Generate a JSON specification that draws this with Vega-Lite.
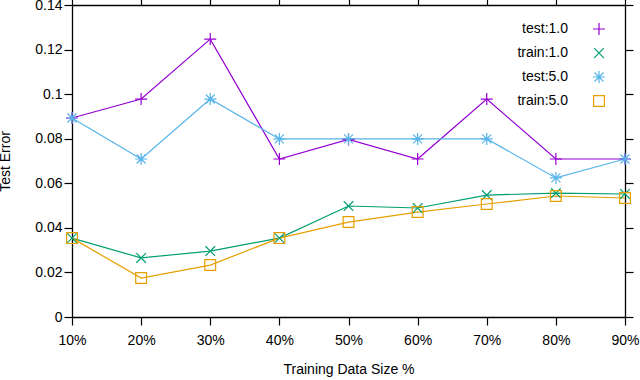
{
  "$schema": "https://vega.github.io/schema/vega-lite/v6.json",
  "width": 553,
  "height": 312,
  "autosize": {"type": "none"},
  "padding": {"left": 72, "top": 5, "right": 15, "bottom": 63},
  "background": "white",
  "config": {
    "font": "Liberation Sans",
    "view": {"stroke": null},
    "axis": {"grid": false, "domain": true, "domainColor": "black", "domainWidth": 1.3, "ticks": true, "tickColor": "black", "tickOpacity": 1, "tickWidth": 1.2, "tickSize": 8, "labelFontSize": 14, "labelColor": "black", "titleFontSize": 14, "titleFontWeight": "normal", "titleColor": "black"},
    "legend": {"title": null, "orient": "top-right", "offset": 17, "labelFontSize": 14, "labelColor": "black", "labelAlign": "right", "labelOffset": -38, "symbolSize": 144, "symbolStrokeWidth": 1.2, "rowPadding": 7}
  },
  "data": {
    "values": [
      {"x": "10%", "series": "test:1.0", "v": 0.0893},
      {"x": "20%", "series": "test:1.0", "v": 0.0978},
      {"x": "30%", "series": "test:1.0", "v": 0.1247},
      {"x": "40%", "series": "test:1.0", "v": 0.0709},
      {"x": "50%", "series": "test:1.0", "v": 0.0797},
      {"x": "60%", "series": "test:1.0", "v": 0.0709},
      {"x": "70%", "series": "test:1.0", "v": 0.0978},
      {"x": "80%", "series": "test:1.0", "v": 0.0709},
      {"x": "90%", "series": "test:1.0", "v": 0.0709},
      {"x": "10%", "series": "train:1.0", "v": 0.0354},
      {"x": "20%", "series": "train:1.0", "v": 0.0265},
      {"x": "30%", "series": "train:1.0", "v": 0.0296},
      {"x": "40%", "series": "train:1.0", "v": 0.0354},
      {"x": "50%", "series": "train:1.0", "v": 0.0498},
      {"x": "60%", "series": "train:1.0", "v": 0.0489},
      {"x": "70%", "series": "train:1.0", "v": 0.0547},
      {"x": "80%", "series": "train:1.0", "v": 0.0556},
      {"x": "90%", "series": "train:1.0", "v": 0.0552},
      {"x": "10%", "series": "test:5.0", "v": 0.0893},
      {"x": "20%", "series": "test:5.0", "v": 0.0709},
      {"x": "30%", "series": "test:5.0", "v": 0.0978},
      {"x": "40%", "series": "test:5.0", "v": 0.0799},
      {"x": "50%", "series": "test:5.0", "v": 0.0799},
      {"x": "60%", "series": "test:5.0", "v": 0.0799},
      {"x": "70%", "series": "test:5.0", "v": 0.0799},
      {"x": "80%", "series": "test:5.0", "v": 0.0624},
      {"x": "90%", "series": "test:5.0", "v": 0.0709},
      {"x": "10%", "series": "train:5.0", "v": 0.0354},
      {"x": "20%", "series": "train:5.0", "v": 0.0175},
      {"x": "30%", "series": "train:5.0", "v": 0.0233},
      {"x": "40%", "series": "train:5.0", "v": 0.0354},
      {"x": "50%", "series": "train:5.0", "v": 0.0426},
      {"x": "60%", "series": "train:5.0", "v": 0.0471},
      {"x": "70%", "series": "train:5.0", "v": 0.0507},
      {"x": "80%", "series": "train:5.0", "v": 0.0543},
      {"x": "90%", "series": "train:5.0", "v": 0.0534}
    ]
  },
  "layer": [
    {
      "mark": {"type": "line", "strokeWidth": 1.2},
      "encoding": {
        "x": {"field": "x", "type": "ordinal", "scale": {"type": "point", "padding": 0}, "axis": {"orient": "bottom", "title": "Training Data Size %", "labelAngle": 0, "labelPadding": 8, "titlePadding": 15, "tickSize": 8, "ticks": true}},
        "y": {"field": "v", "type": "quantitative", "scale": {"domain": [0, 0.14]}, "axis": {"orient": "left", "title": "Test Error", "values": [0, 0.02, 0.04, 0.06, 0.08, 0.1, 0.12, 0.14], "format": "~g", "labelPadding": 2, "titlePadding": 22, "tickSize": 8, "ticks": true}},
        "color": {"field": "series", "type": "nominal", "scale": {"domain": ["test:1.0", "train:1.0", "test:5.0", "train:5.0"], "range": ["#9400d3", "#009e73", "#56b4e9", "#e69f00"]}}
      }
    },
    {
      "mark": {"type": "point", "filled": false, "size": 144, "strokeWidth": 1.2, "opacity": 1},
      "encoding": {
        "x": {"field": "x", "type": "ordinal", "scale": {"type": "point", "padding": 0}, "axis": {"orient": "top", "title": null, "labels": false, "tickSize": 8, "ticks": true}},
        "y": {"field": "v", "type": "quantitative", "scale": {"domain": [0, 0.14]}, "axis": {"orient": "right", "title": null, "labels": false, "values": [0, 0.02, 0.04, 0.06, 0.08, 0.1, 0.12, 0.14], "tickSize": 8, "ticks": true}},
        "color": {"field": "series", "type": "nominal", "scale": {"domain": ["test:1.0", "train:1.0", "test:5.0", "train:5.0"], "range": ["#9400d3", "#009e73", "#56b4e9", "#e69f00"]}},
        "shape": {"field": "series", "type": "nominal", "scale": {"domain": ["test:1.0", "train:1.0", "test:5.0", "train:5.0"], "range": ["M-1,0H1M0,-1V1", "M-0.8,-0.8L0.8,0.8M-0.8,0.8L0.8,-0.8", "M-1,0H1M0,-1V1M-0.75,-0.75L0.75,0.75M-0.75,0.75L0.75,-0.75", "M-0.9,-0.9H0.9V0.9H-0.9Z"]}}
      }
    }
  ],
  "resolve": {"axis": {"x": "independent", "y": "independent"}}
}
